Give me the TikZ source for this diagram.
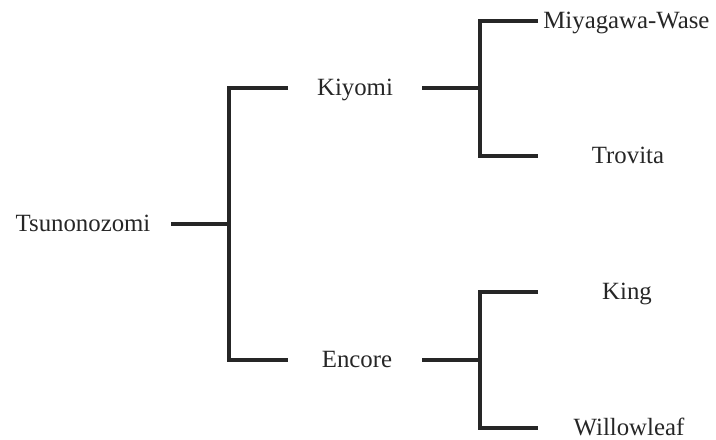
\documentclass[tikz,border=0pt]{standalone}
\usepackage{fontspec}
\setmainfont{Liberation Serif}
\begin{document}
\begin{tikzpicture}[x=0.5pt,y=-0.5pt,
  lbl/.style={anchor=mid,inner sep=0pt,yshift=-1.5pt,font=\fontsize{12.4}{14}\selectfont,text=black!85},
  br/.style={line width=1.55pt,draw=black!85,line cap=butt,line join=miter}]
\useasboundingbox (0,0) rectangle (716,439);
% labels
\node[lbl] (tsu) at (83,224) {Tsunonozomi};
\node[lbl] (kiy) at (355,88) {Kiyomi};
\node[lbl] (enc) at (357,360) {Encore};
\node[lbl,anchor=mid west] (miy) at (543,21) {Miyagawa-Wase};
\node[lbl] (tro) at (628,156) {Trovita};
\node[lbl] (kin) at (627,292) {King};
\node[lbl] (wil) at (629,428) {Willowleaf};
% connector points
\coordinate (t0) at (171,224);
\coordinate (j0) at (229,224);
\coordinate (ja) at (229,88);
\coordinate (jb) at (229,360);
\coordinate (ka) at (288,88);
\coordinate (eb) at (288,360);
\coordinate (k0) at (422,88);
\coordinate (k1) at (480,88);
\coordinate (k1a) at (480,21);
\coordinate (k1b) at (480,156);
\coordinate (m0) at (538,21);
\coordinate (tr0) at (538,156);
\coordinate (e0) at (422,360);
\coordinate (e1) at (480,360);
\coordinate (e1a) at (480,292);
\coordinate (e1b) at (480,428);
\coordinate (ki0) at (538,292);
\coordinate (w0) at (538,428);
% brackets
\draw[br] (t0) -- (j0);
\draw[br] (ka) -- (ja) -- (jb) -- (eb);
\draw[br] (k0) -- (k1);
\draw[br] (m0) -- (k1a) -- (k1b) -- (tr0);
\draw[br] (e0) -- (e1);
\draw[br] (ki0) -- (e1a) -- (e1b) -- (w0);
\end{tikzpicture}
\end{document}
